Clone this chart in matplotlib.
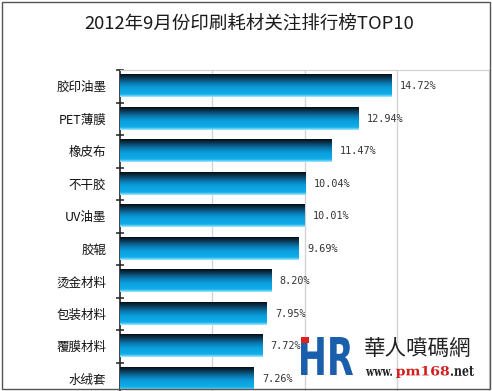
'''2012年9月份印刷耗材关注排行榜 横棒グラフ'''

import numpy as np
import matplotlib
matplotlib.use('Agg')
import matplotlib.pyplot as plt
from matplotlib.colors import LinearSegmentedColormap
from matplotlib.patches import Rectangle, PathPatch
from matplotlib.textpath import TextPath
from matplotlib.font_manager import FontProperties
from matplotlib.transforms import Affine2D, IdentityTransform

plt.rcParams['font.family'] = ['Noto Sans CJK SC', 'DejaVu Sans']

### データ
categories = ['胶印油墨', 'PET薄膜', '橡皮布', '不干胶', 'UV油墨',
              '胶辊', '烫金材料', '包装材料', '覆膜材料', '水绒套']
values = [14.72, 12.94, 11.47, 10.04, 10.01, 9.69, 8.20, 7.95, 7.72, 7.26]
title = '2012年9月份印刷耗材关注排行榜TOP10'

### 図の準備
W, H = 492, 391
fig = plt.figure(figsize=(W/100, H/100), dpi=100)
fig.patch.set_facecolor('white')

# 外枠
fig.patches.append(Rectangle((0.004, 0.004), 0.992, 0.99, transform=fig.transFigure,
                             fill=False, edgecolor='#555555', linewidth=1.0))

ax = fig.add_axes([120/W, 1-395/H, 369/W, 325/H])

# グラデーション (上が濃紺、下が明るい青)
cmap = LinearSegmentedColormap.from_list('bar', [
    (0.0, '#040e18'), (0.15, '#0b3550'), (0.4, '#0a78b0'),
    (0.6, '#0a9edc'), (0.88, '#10aeea'), (1.0, '#9fe8ff')])
grad = np.linspace(0, 1, 64).reshape(-1, 1)
bh = 0.68
for i, v in enumerate(values):
    ax.imshow(grad, cmap=cmap, aspect='auto', extent=(0, v, i+bh/2, i-bh/2),
              interpolation='bilinear', zorder=3)
    ax.text(v + 0.45, i, f'{v:.2f}%', va='center', ha='left', fontsize=7.3,
            color='#333333', family=['DejaVu Sans Mono'], zorder=4)
ax.set_xlim(0, 20)
ax.set_ylim(len(categories)-0.5, -0.5)

#### 軸・目盛
ax.set_xticks([5, 10, 15])
ax.xaxis.grid(True, color='#d4d4d4', linewidth=1.0)
ax.set_axisbelow(True)
ax.tick_params(axis='x', length=0, labelbottom=False)
ax.set_yticks(range(len(categories)))
ax.set_yticklabels(categories, fontsize=9, color='#111111')
ax.tick_params(axis='y', which='major', length=0, pad=10)
ax.set_yticks(np.arange(-0.5, len(categories), 1.0), minor=True)
ax.tick_params(axis='y', which='minor', length=6, direction='inout', width=1.2, color='#333333')
for s in ['top', 'right', 'bottom']:
    ax.spines[s].set_color('#cfcfcf')
ax.spines['left'].set_color('#222222')
ax.spines['left'].set_linewidth(1.2)

#### タイトル
fig.text(249/W, 1-24/H, title, ha='center', va='center', fontsize=13.3, color='#1a1a1a')

#### ウォーターマーク (ピクセル座標で配置)
def path_in_box(s, x0, y0, x1, y1, color, weight='bold', family='DejaVu Sans'):
    '''文字列を画像ピクセルの箱 (左上 x0,y0 / 右下 x1,y1) に収める'''
    tp = TextPath((0, 0), s, size=1, prop=FontProperties(family=family, weight=weight))
    bb = tp.get_extents()
    tr = (Affine2D().translate(-bb.x0, -bb.y0)
          .scale((x1-x0)/bb.width, (y1-y0)/bb.height)
          .translate(x0, H-y1))
    fig.add_artist(PathPatch(tr.transform_path(tp), facecolor=color, edgecolor='none',
                             transform=IdentityTransform()))

path_in_box('HR', 301, 337, 353, 375, '#1a5fab')
fig.add_artist(Rectangle((301, H-343), 8, 6, transform=IdentityTransform(),
                         facecolor='#e02020', edgecolor='none'))
fig.text(418/W, 1-349/H, '華人噴碼網', ha='center', va='center', fontsize=15.5,
         color='#222222', family=['Noto Sans CJK TC'])
path_in_box('www.', 366, 369, 392, 376, '#222222', family='DejaVu Serif')
path_in_box('pm168', 396, 366, 449, 378, '#d02020', family='DejaVu Serif')
path_in_box('.net', 451, 366, 474, 376, '#222222', family='DejaVu Serif')

fig.savefig('out.png', dpi=100)
